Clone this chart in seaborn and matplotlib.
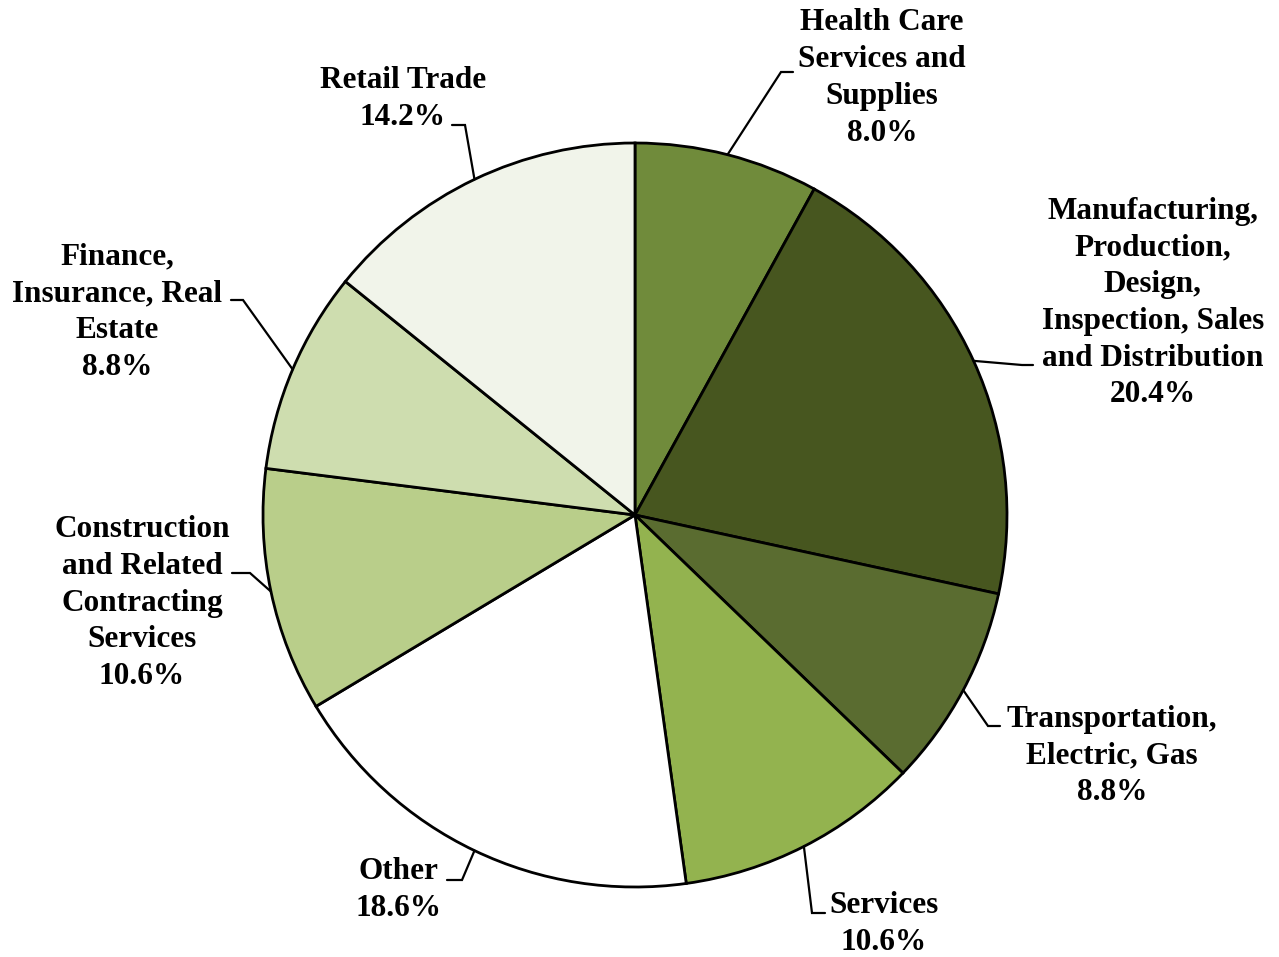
import numpy as np
import matplotlib
matplotlib.use("Agg")
import matplotlib.pyplot as plt
import seaborn as sns

sns.set_theme(style="white")
plt.rcParams['font.family'] = ['Liberation Serif', 'DejaVu Serif']

# data, clockwise from 12 o'clock
sectors = ["Health Care\nServices and\nSupplies",
           "Manufacturing,\nProduction,\nDesign,\nInspection, Sales\nand Distribution",
           "Transportation,\nElectric, Gas",
           "Services",
           "Other",
           "Construction\nand Related\nContracting\nServices",
           "Finance,\nInsurance, Real\nEstate",
           "Retail Trade"]
shares = [8.0, 20.4, 8.8, 10.6, 18.6, 10.6, 8.8, 14.2]
colors = ["#708B3B", "#47561F", "#5A6C30", "#93B34F",
          "#FFFFFF", "#B9CE8A", "#CEDDAF", "#F1F4EA"]

# layout in pixels (y measured from top of the image)
W, H = 1279, 957
cx, cy, R = 635, 515, 372
label_pos = [(882, 78), (1153, 303), (1112, 756), (884, 924),
             (398, 890), (142, 603), (117, 312), (403, 99)]
elbows = [(781, 72), (1022, 365), (988, 726), (812, 913),
          (462, 880), (250, 573), (243, 300), (465, 125)]
stub_ends = [793, 1033, 1000, 825, 447, 232, 231, 452]

fig = plt.figure(figsize=(W / 100, H / 100), dpi=100)
ax = fig.add_axes([0, 0, 1, 1])

wedges, _ = ax.pie(shares, colors=colors, startangle=90, counterclock=False,
                   center=(cx, H - cy), radius=R,
                   wedgeprops=dict(edgecolor="black", linewidth=2))
# pie() resets the limits, so set them afterwards
ax.set_xlim(0, W)
ax.set_ylim(0, H)
ax.set_aspect("equal")
ax.axis("off")

for w, name, val, (tx, ty), (ex, ey), sx in zip(wedges, sectors, shares,
                                               label_pos, elbows, stub_ends):
    mid = np.deg2rad((w.theta1 + w.theta2) / 2)
    ax_x = cx + R * np.cos(mid)
    ax_y = (H - cy) + R * np.sin(mid)
    ax.plot([ax_x, ex, sx], [ax_y, H - ey, H - ey], color="black", lw=1.6,
            solid_joinstyle="miter")
    ax.text(tx, H - ty, f"{name}\n{val:.1f}%", ha="center", va="center",
            fontsize=22.5, fontweight="bold", linespacing=1.35, color="black")

fig.savefig("out.png", dpi=100)
